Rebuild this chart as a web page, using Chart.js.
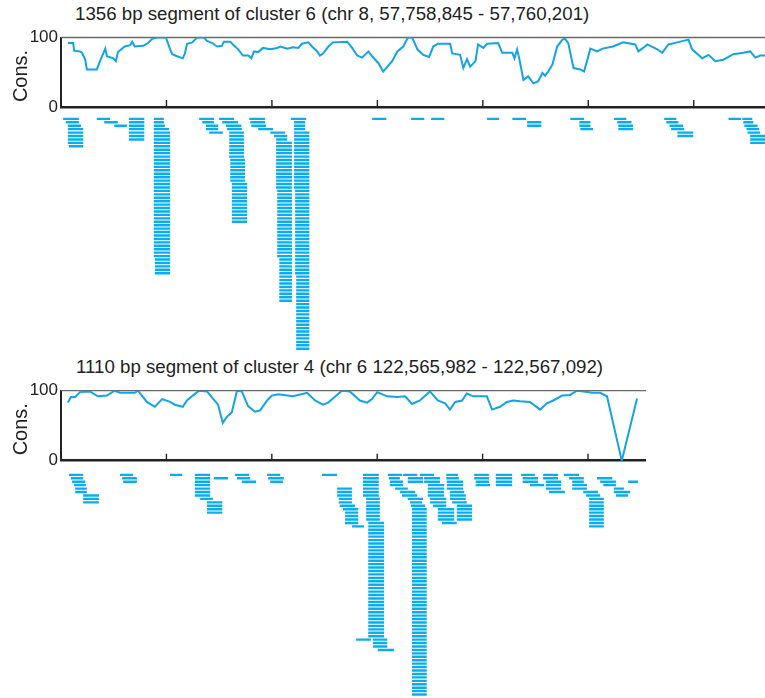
<!DOCTYPE html>
<html>
<head>
<meta charset="utf-8">
<script src="https://cdn.jsdelivr.net/npm/chart.js@4.4.1/dist/chart.umd.min.js"></script>
<style>
  html, body { margin: 0; padding: 0; background: #fff; width: 765px; height: 698px; overflow: hidden; }
  .title { position: absolute; font-family: 'Liberation Sans', Arial, sans-serif; font-size: 18.7px; line-height: 18.7px; color: #222; white-space: nowrap; }
  canvas { position: absolute; left: 0; }
</style>
</head>
<body>
<div class="title" id="t1" style="left:75px; top:5px;">1356 bp segment of cluster 6 (chr 8, 57,758,845 - 57,760,201)</div>
<div class="title" id="t2" style="left:76px; top:358px;">1110 bp segment of cluster 4 (chr 6 122,565,982 - 122,567,092)</div>
<canvas id="line1" width="776" height="125" style="top:0px"></canvas>
<canvas id="reads1" width="776" height="247" style="top:112px"></canvas>
<canvas id="line2" width="646" height="125" style="top:353px"></canvas>
<canvas id="reads2" width="646" height="230" style="top:468px"></canvas>
<script>
// segment lengths (bp)
const len1 = 1356;
const len2 = 1110;
const yTicks = [0, 100];
const yLabel = 'Cons.';
const xTicks1 = [200, 400, 600, 800, 1000, 1200];
const xTicks2 = [200, 400, 600, 800, 1000];

// conservation, cluster 6: position (bp) and value
const pos1 = [13,23,25,36,40,46,49,68,74,84,87,99,104,108,121,131,135,140,156,165,173,182,192,199,207,211,220,231,235,239,249,258,271,277,287,296,305,309,321,326,336,345,355,361,366,374,383,397,410,416,429,440,450,457,469,476,486,491,497,507,516,543,552,562,571,583,590,602,611,619,628,638,649,658,666,676,687,698,706,715,738,742,757,763,770,776,786,791,801,808,829,837,856,860,865,869,877,886,896,905,913,918,924,932,941,951,956,962,972,985,992,1004,1017,1027,1047,1066,1089,1095,1104,1112,1131,1140,1152,1169,1190,1197,1216,1228,1241,1256,1266,1275,1294,1307,1317,1326,1336];
const cons1 = [92,92,81,80,78,68,54,54,66,84,73,70,66,79,87,89,94,87,88,92,98,100,100,100,83,76,73,70,77,91,93,100,100,95,92,87,88,94,94,90,83,74,74,70,80,79,85,83,85,87,84,86,85,91,93,87,80,74,77,87,93,94,85,74,71,80,73,63,51,58,66,80,87,100,100,83,75,72,87,91,91,77,75,56,69,58,66,90,85,91,92,78,78,70,83,70,39,44,34,37,49,45,51,61,87,97,98,92,56,54,51,84,80,84,87,93,90,80,85,90,83,78,90,93,97,83,70,75,66,68,72,76,78,80,71,74,74];

// conservation, cluster 4
const pos2 = [13,19,27,36,55,70,87,102,112,140,146,163,178,192,207,216,231,239,250,262,277,288,298,307,315,324,334,343,355,368,378,391,400,412,440,467,482,497,507,516,533,548,567,581,590,600,619,638,653,666,681,700,715,729,738,748,761,770,782,808,818,833,846,858,871,890,909,922,934,951,966,979,991,1009,1023,1036,1064,1093];
const cons2 = [83,91,91,98,99,92,93,100,97,97,100,84,77,88,84,80,77,86,93,100,99,89,80,54,63,69,100,99,78,70,72,86,93,95,92,97,86,80,83,89,100,99,86,83,88,98,92,91,92,81,86,99,86,82,73,84,86,96,92,92,73,77,84,86,85,84,73,82,86,93,94,100,99,97,97,92,0,89];

// mapped reads: [start bp, end bp, first row, last row]
const reads1 = [
  [4,34,0,0],[9,34,1,1],[13,38,2,2],[13,42,3,7],[15,42,8,8],
  [68,93,0,0],[82,108,1,1],[101,125,2,2],
  [129,158,0,6],
  [176,195,0,1],[176,197,2,2],[176,205,3,3],[176,207,4,40],[178,207,41,45],
  [262,290,0,0],[268,290,1,1],[275,298,2,3],[281,307,4,4],
  [300,328,0,0],[306,336,1,1],[313,342,2,2],[315,343,3,3],[319,347,4,11],[321,349,12,18],[324,353,19,30],
  [357,387,0,0],[359,387,1,1],[361,389,2,2],[374,402,3,3],
  [397,425,4,4],[404,429,5,5],[408,429,6,6],[408,438,7,20],[410,438,21,40],[414,438,41,53],
  [436,465,0,0],[442,463,1,3],[442,471,4,20],[444,471,21,45],[446,471,46,67],
  [590,617,0,0],[664,689,0,0],[702,727,0,0],[808,831,0,0],
  [856,882,0,0],[884,911,1,2],
  [966,992,0,0],[983,1004,1,2],[985,1009,3,3],
  [1049,1072,0,0],[1055,1082,1,1],[1057,1085,2,3],
  [1144,1167,0,0],[1148,1171,1,1],[1154,1180,2,2],[1157,1182,3,3],[1169,1199,4,5],
  [1266,1290,0,0],[1292,1311,0,0],[1294,1313,1,1],[1296,1321,2,2],[1300,1324,3,3],[1302,1326,4,4],[1307,1336,5,7]
];
const reads2 = [
  [15,42,0,0],[19,42,1,1],[21,46,2,2],[25,47,3,3],[27,49,4,5],[42,72,6,8],
  [112,137,0,0],[116,144,1,1],[118,144,2,2],
  [207,230,0,0],
  [254,283,0,6],[264,288,7,7],[277,306,8,11],[290,317,1,1],
  [330,357,0,0],[334,359,1,1],[343,370,2,2],
  [391,416,0,0],[393,423,1,1],[397,421,2,2],
  [495,524,0,0],
  [524,552,4,6],[527,552,7,8],[529,558,9,9],[535,564,10,10],[539,564,11,14],[552,575,15,15],
  [573,603,0,6],[579,605,7,13],[583,613,14,47],[592,619,48,50],[601,632,51,51],[560,588,48,48],
  [620,647,0,0],[622,643,1,1],[624,649,2,3],[634,658,4,4],[643,672,5,5],[647,676,6,6],[658,687,7,7],[662,685,8,8],[664,691,9,9],[666,694,10,64],
  [649,676,0,0],[658,687,1,2],
  [681,708,0,0],[689,719,1,2],[696,727,3,6],[700,731,7,8],[706,731,9,9],[715,746,10,13],[723,751,14,14],
  [731,753,0,0],[731,755,1,1],[732,763,2,4],[738,765,5,5],[738,768,6,7],[742,770,8,8],[751,780,9,13],
  [784,812,0,1],[787,812,2,2],[787,814,3,3],
  [825,856,0,3],
  [873,899,0,0],[876,905,1,2],[890,917,3,3],
  [915,943,0,1],[920,949,2,4],[926,956,5,5],
  [954,983,0,0],[964,992,1,1],[970,992,2,2],[970,998,3,4],[991,1019,5,5],[996,1023,6,6],[1002,1030,7,15],
  [1017,1046,1,1],[1023,1053,2,2],[1029,1053,3,3],[1049,1068,4,4],[1049,1080,5,5],[1053,1076,6,6],
  [1076,1095,2,2]
];

const lineColor = '#14a4e2';
const readColor = '#0aadec';
Chart.defaults.font.family = "'Liberation Sans', Arial, sans-serif";
Chart.defaults.color = '#222';

// top gray frame line, inward ticks on the x axis, rotated y label
const framePlugin = {
  id: 'frame',
  beforeDatasetsDraw(chart, args, opts) {
    const { ctx, chartArea: a, scales } = chart;
    ctx.save();
    ctx.strokeStyle = '#6a6a6a';
    ctx.lineWidth = 1.3;
    ctx.beginPath();
    ctx.moveTo(a.left, a.top);
    ctx.lineTo(a.right, a.top);
    ctx.stroke();
    ctx.strokeStyle = '#222';
    ctx.lineWidth = 1.4;
    opts.ticks.forEach(v => {
      const x = scales.x.getPixelForValue(v);
      ctx.beginPath();
      ctx.moveTo(x, a.bottom);
      ctx.lineTo(x, a.bottom - 7);
      ctx.stroke();
    });
    ctx.translate(27, a.top + 38.5);
    ctx.rotate(-Math.PI / 2);
    ctx.fillStyle = '#222';
    ctx.font = "20px 'Liberation Sans', Arial, sans-serif";
    ctx.textAlign = 'center';
    ctx.textBaseline = 'alphabetic';
    ctx.fillText(yLabel, 0, 0);
    ctx.restore();
  }
};

function consChart(id, pos, cons, len, ticks, padTop, xHeight) {
  return new Chart(document.getElementById(id), {
    type: 'line',
    data: {
      datasets: [{
        data: pos.map((p, i) => ({ x: p, y: cons[i] })),
        borderColor: lineColor,
        borderWidth: 2,
        pointRadius: 0,
        tension: 0
      }]
    },
    options: {
      responsive: false,
      animation: false,
      layout: { padding: { top: padTop, left: 0, right: 0, bottom: 0 } },
      plugins: { legend: { display: false }, tooltip: { enabled: false }, frame: { ticks: ticks } },
      scales: {
        x: {
          type: 'linear', min: 0, max: len,
          ticks: { display: false },
          grid: { display: false, drawTicks: false },
          border: { display: true, color: '#222', width: 2.5 },
          afterFit: s => { s.height = xHeight; }
        },
        y: {
          min: 0, max: 100,
          afterBuildTicks: s => { s.ticks = yTicks.map(v => ({ value: v })); },
          ticks: { font: { size: 17 }, color: '#222', padding: 3 },
          grid: { display: false, drawTicks: false },
          border: { display: true, color: '#222', width: 2 },
          afterFit: s => { s.width = 61; }
        }
      }
    },
    plugins: [framePlugin]
  });
}

function readsChart(id, blocks, len, maxRow) {
  const pts = [];
  blocks.forEach(([s, e, r0, r1]) => {
    for (let r = r0; r <= r1; r++) {
      pts.push({ x: s, y: r }, { x: e, y: r }, { x: e, y: null });
    }
  });
  return new Chart(document.getElementById(id), {
    type: 'line',
    data: {
      datasets: [{
        data: pts,
        borderColor: readColor,
        borderWidth: 2.4,
        borderCapStyle: 'butt',
        pointRadius: 0,
        spanGaps: false
      }]
    },
    options: {
      responsive: false,
      animation: false,
      layout: { padding: { left: 61, right: 0, top: 0, bottom: 0 } },
      plugins: { legend: { display: false }, tooltip: { enabled: false } },
      scales: {
        x: { type: 'linear', min: 0, max: len, display: false },
        y: { type: 'linear', min: -2, max: maxRow, reverse: true, display: false }
      }
    }
  });
}

consChart('line1', pos1, cons1, len1, xTicks1, 37.5, 18);
readsChart('reads1', reads1, len1, 70);
consChart('line2', pos2, cons2, len2, xTicks2, 37.7, 17.3);
readsChart('reads2', reads2, len2, 65);
</script>
</body>
</html>
